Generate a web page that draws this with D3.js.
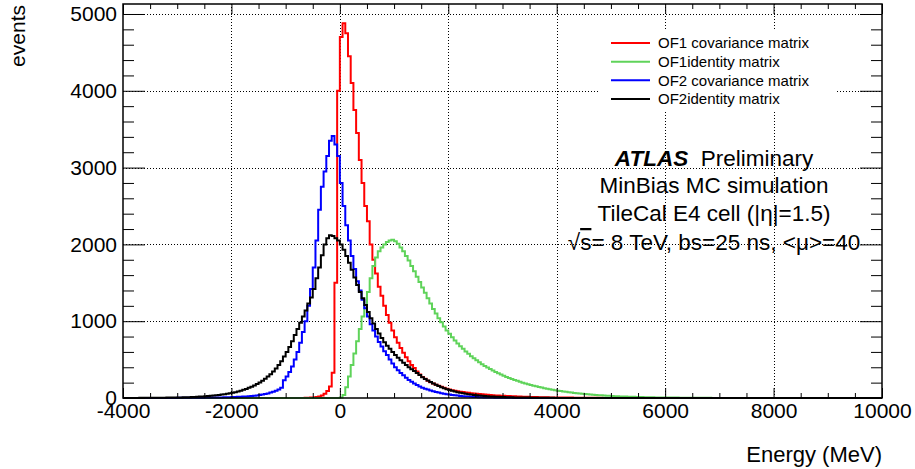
<!DOCTYPE html>
<html>
<head>
<meta charset="utf-8">
<script src="https://cdn.jsdelivr.net/npm/d3@7"></script>
<style>
  body { margin: 0; background: #fff; }
  text { font-family: "Liberation Sans", Arial, sans-serif; fill: #000; }
</style>
</head>
<body>
<svg id="chart" width="915" height="469"></svg>
<script>
// histogram contents, 50 MeV bins, first bin starts at *Start (all other bins empty)
const binWidth = 50;
const redStart = -650;
const redCounts = [2, 3, 5, 8, 12, 20, 32, 55, 90, 150, 330, 1500, 4000, 4700, 4880, 4750, 4450, 4100, 3750,
  3450, 3100, 2800, 2500, 2300, 2000, 1800, 1620, 1450, 1330, 1200, 1080, 980, 880, 790, 720, 650, 590, 530,
  480, 430, 390, 345, 305, 275, 250, 225, 205, 188, 172, 158, 145, 132, 120, 110, 102, 95, 88, 82, 77, 72,
  67, 63, 59, 55, 51, 48, 45, 42, 39, 36, 34, 32, 30, 29, 27, 25, 23, 22, 20, 19, 17, 16, 15, 14, 13, 12,
  11, 10, 9, 9, 8, 8, 7, 7, 6, 6, 5, 5, 5, 4, 4, 4, 3, 3, 3, 2, 2, 2, 2, 2, 1, 1, 1];
const greenStart = 0;
const greenCounts = [5, 40, 140, 280, 430, 580, 740, 900, 1060, 1210, 1380, 1560, 1720, 1830, 1910, 1960,
  2000, 2030, 2050, 2060, 2040, 2010, 1960, 1910, 1850, 1790, 1720, 1650, 1580, 1510, 1440, 1370, 1300,
  1230, 1160, 1100, 1040, 985, 930, 880, 835, 790, 750, 710, 675, 640, 605, 575, 545, 517, 490, 465, 440,
  418, 397, 377, 358, 340, 322, 305, 290, 275, 261, 248, 235, 223, 211, 200, 190, 180, 170, 161, 152, 144,
  136, 128, 121, 114, 108, 102, 96, 90, 85, 80, 75, 70, 66, 62, 58, 54, 51, 48, 45, 42, 39, 37, 35, 32, 30,
  28, 26, 24, 23, 21, 20, 18, 17, 16, 15, 14, 13, 12, 11, 10, 10, 9, 8, 8, 7, 7, 6, 6, 5, 5, 5, 4, 4, 4, 3,
  3, 3, 3, 2, 2, 2, 2, 2, 1, 1, 1, 1];
const blueStart = -3000;
const blueCounts = [2, 2, 2, 2, 3, 3, 3, 3, 4, 4, 5, 5, 6, 6, 7, 7, 8, 9, 10, 11, 12, 13, 15, 16, 18, 20, 23,
  26, 30, 34, 40, 45, 52, 60, 70, 80, 95, 110, 135, 230, 280, 340, 410, 500, 600, 720, 860, 1000, 1200, 1420,
  1700, 2050, 2450, 2750, 2950, 3150, 3350, 3410, 3300, 3150, 2800, 2500, 2250, 2050, 1850, 1680, 1520, 1400,
  1280, 1170, 1060, 960, 880, 800, 730, 670, 610, 560, 500, 450, 400, 360, 325, 295, 265, 235, 210, 188, 168,
  150, 135, 122, 110, 98, 88, 79, 70, 63, 56, 50, 45, 40, 35, 31, 27, 24, 21, 18, 16, 14, 12, 10, 9, 8, 7, 6,
  5, 4, 4, 3, 3, 2, 2, 2, 1, 1];
const blackStart = -3800;
const blackCounts = [1, 1, 2, 2, 2, 2, 3, 3, 3, 3, 4, 4, 5, 5, 6, 6, 7, 8, 9, 10, 11, 12, 14, 16, 18, 20, 22,
  25, 28, 31, 35, 39, 44, 49, 55, 61, 68, 76, 85, 95, 106, 118, 132, 147, 163, 182, 202, 225, 250, 280, 310,
  345, 385, 430, 480, 540, 600, 665, 740, 820, 900, 980, 1060, 1140, 1230, 1310, 1420, 1560, 1700, 1860, 2000,
  2080, 2120, 2110, 2080, 2050, 2000, 1930, 1850, 1760, 1670, 1570, 1470, 1380, 1300, 1210, 1120, 1040, 970,
  900, 840, 780, 725, 680, 640, 600, 560, 525, 490, 460, 430, 400, 375, 350, 325, 300, 270, 248, 228, 208,
  190, 172, 156, 141, 127, 114, 103, 93, 84, 76, 69, 62, 56, 50, 45, 40, 36, 32, 29, 26, 23, 21, 19, 17, 15,
  13, 12, 11, 10, 9, 8, 7, 6, 6, 5, 5, 4, 4, 3, 3, 3, 2, 2, 2, 2, 1, 1];

const seriesNames = ["OF1 covariance matrix", "OF1identity matrix", "OF2 covariance matrix", "OF2identity matrix"];
const seriesColors = ["#ff0000", "#5fd35a", "#0000ff", "#000000"];
const seriesStarts = [redStart, greenStart, blueStart, blackStart];
const seriesCounts = [redCounts, greenCounts, blueCounts, blackCounts];

const xMajor = [-4000, -2000, 0, 2000, 4000, 6000, 8000, 10000];
const yMajor = [0, 1000, 2000, 3000, 4000, 5000];
const infoLines = ["MinBias MC simulation", "TileCal E4 cell (|\u03b7|=1.5)"];

const svg = d3.select("#chart");
const frameL = 123, frameR = 882, frameT = 4, frameB = 398;
const x = d3.scaleLinear().domain([-4000, 10000]).range([frameL, frameR]);
const y = d3.scaleLinear().domain([0, 5130]).range([frameB, frameT]);

const xMinor = d3.range(-4000, 10001, 500).filter(d => xMajor.indexOf(d) < 0);
const yMinor = d3.range(0, 5130, 200).filter(d => yMajor.indexOf(d) < 0);

// grid
const grid = svg.append("g").attr("stroke", "#000").attr("stroke-width", 1).attr("stroke-dasharray", "1,2");
grid.selectAll(".gx").data(xMajor.slice(1, -1)).enter().append("line")
  .attr("x1", d => Math.round(x(d)) + 0.5).attr("x2", d => Math.round(x(d)) + 0.5)
  .attr("y1", frameT).attr("y2", frameB);
grid.selectAll(".gy").data(yMajor.slice(1)).enter().append("line")
  .attr("y1", d => Math.round(y(d)) + 0.5).attr("y2", d => Math.round(y(d)) + 0.5)
  .attr("x1", frameL).attr("x2", frameR);

// histograms
function binsFor(start, counts) {
  const pts = [[-4000, 0]];
  if (start > -4000) pts.push([start, counts[0]]);
  counts.forEach((c, i) => pts.push([start + i * binWidth, c]));
  pts.push([start + counts.length * binWidth, 0]);
  pts.push([10000, 0]);
  return pts;
}
const line = d3.line().x(d => x(d[0])).y(d => y(d[1])).curve(d3.curveStepAfter);
seriesCounts.forEach((counts, i) => {
  svg.append("path")
    .datum(binsFor(seriesStarts[i], counts))
    .attr("d", line)
    .attr("fill", "none")
    .attr("stroke", seriesColors[i])
    .attr("stroke-width", 2);
});

// axes with inward ticks on all sides
function clean(g) { g.select(".domain").remove(); g.selectAll("line").attr("stroke", "#000"); }
svg.append("g").attr("transform", `translate(0,${frameB})`)
  .call(d3.axisBottom(x).tickValues(xMajor).tickSize(-10).tickPadding(5).tickFormat(d => String(d)))
  .call(clean)
  .selectAll("text").attr("font-size", 21).attr("font-family", "Liberation Sans");
svg.append("g").attr("transform", `translate(0,${frameB})`)
  .call(d3.axisBottom(x).tickValues(xMinor).tickSize(-5).tickFormat("")).call(clean);
svg.append("g").attr("transform", `translate(0,${frameT})`)
  .call(d3.axisTop(x).tickValues(xMajor).tickSize(-10).tickFormat("")).call(clean);
svg.append("g").attr("transform", `translate(0,${frameT})`)
  .call(d3.axisTop(x).tickValues(xMinor).tickSize(-5).tickFormat("")).call(clean);
svg.append("g").attr("transform", `translate(${frameL},0)`)
  .call(d3.axisLeft(y).tickValues(yMajor).tickSize(-22).tickPadding(6).tickFormat(d => String(d)))
  .call(clean)
  .selectAll("text").attr("font-size", 21).attr("font-family", "Liberation Sans");
svg.append("g").attr("transform", `translate(${frameL},0)`)
  .call(d3.axisLeft(y).tickValues(yMinor).tickSize(-11).tickFormat("")).call(clean);
svg.append("g").attr("transform", `translate(${frameR},0)`)
  .call(d3.axisRight(y).tickValues(yMajor).tickSize(-22).tickFormat("")).call(clean);
svg.append("g").attr("transform", `translate(${frameR},0)`)
  .call(d3.axisRight(y).tickValues(yMinor).tickSize(-11).tickFormat("")).call(clean);

svg.append("rect").attr("x", frameL).attr("y", frameT).attr("width", frameR - frameL).attr("height", frameB - frameT)
  .attr("fill", "none").attr("stroke", "#000").attr("stroke-width", 1.5);

// axis titles
svg.append("text").attr("transform", "translate(25,5) rotate(-90)")
  .attr("text-anchor", "end").attr("font-size", 21).text("events");
svg.append("text").attr("x", frameR).attr("y", 462)
  .attr("text-anchor", "end").attr("font-size", 22).text("Energy (MeV)");

// legend
const legend = svg.append("g");
legend.append("rect").attr("x", 600).attr("y", 30).attr("width", 235).attr("height", 80).attr("fill", "#fff");
const legendY = d3.scalePoint().domain(seriesNames).range([43, 99]);
legend.selectAll("line.lg").data(seriesNames).enter().append("line")
  .attr("x1", 611).attr("x2", 650)
  .attr("y1", d => legendY(d)).attr("y2", d => legendY(d))
  .attr("stroke", (d, i) => seriesColors[i]).attr("stroke-width", 2);
legend.selectAll("text.lg").data(seriesNames).enter().append("text")
  .attr("x", 658).attr("y", d => legendY(d)).attr("dy", "0.35em")
  .attr("font-size", 15).text(d => d);

// labels
const cx = 714;
const t1 = svg.append("text").attr("x", cx).attr("y", 166).attr("text-anchor", "middle").attr("font-size", 22.5);
t1.append("tspan").attr("font-weight", "bold").attr("font-style", "italic").text("ATLAS");
t1.append("tspan").text("\u00a0 Preliminary");
svg.selectAll("text.info").data(infoLines).enter().append("text")
  .attr("x", cx).attr("y", (d, i) => 193 + i * 28)
  .attr("text-anchor", "middle").attr("font-size", 22.5).text(d => d);
const t4 = svg.append("text").attr("x", cx).attr("y", 250).attr("text-anchor", "middle").attr("font-size", 22.5);
t4.append("tspan").text("\u221a");
t4.append("tspan").attr("text-decoration", "overline").text("s");
t4.append("tspan").text("= 8 TeV, bs=25 ns, <\u03bc>=40");
</script>
</body>
</html>
